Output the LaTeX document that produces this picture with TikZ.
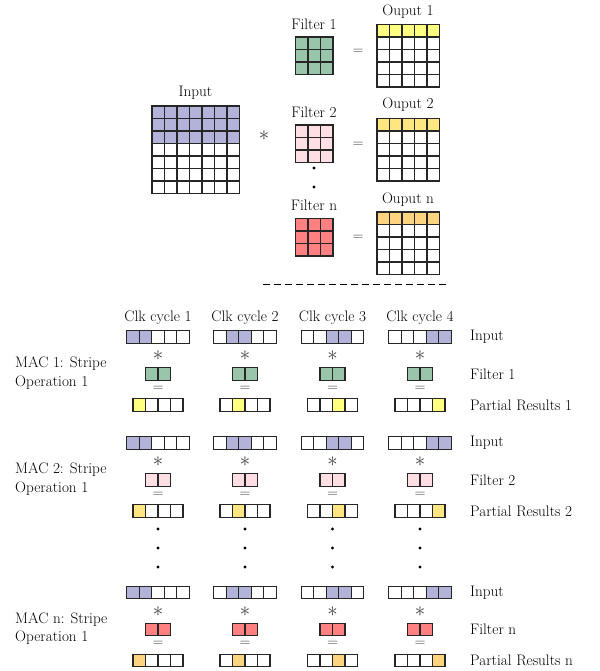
\documentclass[tikz,border=0pt]{standalone}
\definecolor{cpurple}{RGB}{179,179,217}
\definecolor{cgreen}{RGB}{153,198,170}
\definecolor{cpink}{RGB}{255,222,228}
\definecolor{cred}{RGB}{255,128,128}
\definecolor{cyellow}{RGB}{255,255,128}
\definecolor{cyellowb}{RGB}{255,230,128}
\definecolor{corange}{RGB}{255,212,128}
\newcommand{\cellblock}[6]{% left, top, cols, rows, color, filled rows
  \ifnum#6>0 \fill[#5] (#1,#2) rectangle ++({#3*12.5},{#6*12.5});\fi
  \foreach \ci in {1,...,#3}{\foreach \cj in {1,...,#4}{\draw[cellline] ({#1+(\ci-1)*12.5},{#2+(\cj-1)*12.5}) rectangle ++(12.5,12.5);}}}
\newcommand{\cellstripe}[5]{% left, top, ncells, color, filled list
  \foreach \ck in {#5}{\fill[#4] ({#1+(\ck-1)*12.5},{#2}) rectangle ++(12.5,12.5);}
  \foreach \ck in {1,...,#3}{\draw[cellline] ({#1+(\ck-1)*12.5},{#2}) rectangle ++(12.5,12.5);}}
\newcommand{\bigast}{{\fontsize{21}{22}\selectfont$\ast$}}
\newcommand{\bigeq}{{\fontsize{15.2}{18}\selectfont$=$}}
\begin{document}
\begin{tikzpicture}[x=1pt,y=-1pt,
  every node/.style={font=\fontsize{15.2}{18.5}\selectfont, inner sep=0pt},
  cellline/.style={line width=1.2pt, draw=black!85},
  opsign/.style={text=black!75}]
\useasboundingbox (0,0) rectangle (599,671);
% ---------- top part ----------
\cellblock{152}{106}{7}{7}{cpurple}{3}
\node (inlabel) at (195.5,93) {Input};
\node[opsign] (conv) at (264,136) {\bigast};
\cellblock{295.5}{37}{3}{3}{cgreen}{3}
\cellblock{295.5}{125}{3}{3}{cpink}{3}
\cellblock{295.5}{218.5}{3}{3}{cred}{3}
\node (f1) at (314,24) {Filter 1};
\node (f2) at (314,112) {Filter 2};
\node (fn) at (314,205) {Filter n};
\fill (314,168) circle (1.6);
\fill (314,187) circle (1.6);
\node[opsign] (eq1) at (358,52) {\bigeq};
\node[opsign] (eq2) at (358,145) {\bigeq};
\node[opsign] (eqn) at (358,238) {\bigeq};
\cellblock{377}{24.5}{5}{5}{cyellow}{1}
\cellblock{377}{118.5}{5}{5}{cyellowb}{1}
\cellblock{377}{212}{5}{5}{corange}{1}
\node (o1) at (408,12) {Ouput 1};
\node (o2) at (408,105) {Ouput 2};
\node (on) at (408,200) {Ouput n};
% ---------- separator ----------
\coordinate (sepL) at (263,284);
\coordinate (sepR) at (450,284);
\draw[line width=0.8pt, dash pattern=on 6.5pt off 4.5pt] (sepL) -- (sepR);
% ---------- bottom part ----------
\foreach \k/\cx in {1/158,2/245,3/332.5,4/420}{
  \node (clk\k) at (\cx,318) {Clk cycle \k};
}
\foreach \s/\yi/\fc/\pc/\flab/\plab/\mlab in {
  1/337/cgreen/cyellow/{Filter 1}/{Partial Results 1}/{MAC 1: Stripe},
  2/443/cpink/cyellowb/{Filter 2}/{Partial Results 2}/{MAC 2: Stripe},
  n/592.5/cred/corange/{Filter n}/{Partial Results n}/{MAC n: Stripe}}{
  \foreach \k/\cx in {1/158,2/245,3/332.5,4/420}{
    \pgfmathtruncatemacro\kk{\k+1}
    \cellstripe{\cx-31.25}{\yi-6.25}{5}{cpurple}{\k,\kk}
    \node[opsign] (star\s\k) at (\cx,\yi+19) {\bigast};
    \cellstripe{\cx-12.5}{\yi+37-6.25}{2}{\fc}{1,2}
    \node[opsign] (eq\s\k) at (\cx,\yi+51.5) {$=$};
    \cellstripe{\cx-25}{\yi+68-6.25}{4}{\pc}{\k}
  }
  \node[anchor=west] (inl\s) at (470,\yi) {Input};
  \node[anchor=west] (fl\s) at (470,\yi+37) {\flab};
  \node[anchor=west] (pl\s) at (470,\yi+68) {\plab};
  \node[anchor=west, align=left] (mac\s) at (15,\yi+36) {\mlab\\Operation 1};
}
\foreach \cx in {158,245,332.5,420}{
  \fill (\cx,529) circle (1.6);
  \fill (\cx,548) circle (1.6);
  \fill (\cx,567) circle (1.6);
}
\end{tikzpicture}
\end{document}
